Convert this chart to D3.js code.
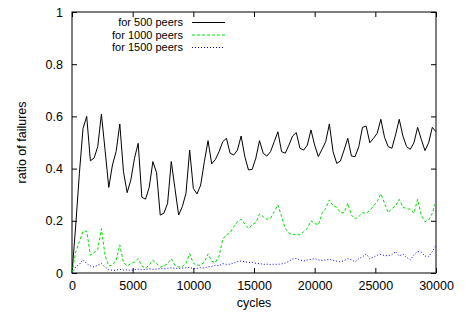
<!DOCTYPE html>
<html>
<head>
<meta charset="utf-8">
<script src="https://cdn.jsdelivr.net/npm/d3@7"></script>
<style>
  body { margin: 0; background: #fff; }
  svg { display: block; font-family: "Liberation Sans", Arial, Helvetica, sans-serif; }
  .axis path, .axis line { stroke: #000; }
  .axis text { font-size: 12.5px; fill: #000; }
</style>
</head>
<body>
<div id="chart"></div>
<script>
// ratio of failures sampled over 0..30000 cycles (100 samples each)
const peers500 = [
  0, 0.18, 0.38, 0.554, 0.60, 0.43, 0.44, 0.484, 0.609, 0.47,
  0.328, 0.414, 0.465, 0.571, 0.388, 0.308, 0.356, 0.44, 0.497, 0.29,
  0.283, 0.328, 0.427, 0.384, 0.222, 0.229, 0.267, 0.427, 0.324, 0.222,
  0.254, 0.305, 0.471, 0.324, 0.303, 0.337, 0.427, 0.507, 0.418, 0.435,
  0.465, 0.503, 0.516, 0.459, 0.452, 0.471, 0.525, 0.446, 0.395, 0.397,
  0.44, 0.507, 0.459, 0.448, 0.465, 0.503, 0.541, 0.465, 0.459, 0.49,
  0.525, 0.538, 0.478, 0.471, 0.49, 0.548, 0.49, 0.446, 0.474, 0.503,
  0.571, 0.465, 0.42, 0.429, 0.471, 0.516, 0.448, 0.446, 0.484, 0.558,
  0.563, 0.499, 0.516, 0.535, 0.589, 0.52, 0.484, 0.478, 0.529, 0.589,
  0.525, 0.484, 0.474, 0.499, 0.558, 0.512, 0.469, 0.499, 0.558, 0.541
];
const peers1000 = [
  0, 0.08, 0.12, 0.16, 0.16, 0.068, 0.078, 0.09, 0.17, 0.068,
  0.027, 0.03, 0.049, 0.108, 0.04, 0.027, 0.036, 0.042, 0.055, 0.027,
  0.019, 0.03, 0.049, 0.036, 0.023, 0.027, 0.036, 0.055, 0.03, 0.023,
  0.025, 0.036, 0.074, 0.037, 0.03, 0.03, 0.042, 0.073, 0.045, 0.04,
  0.065, 0.13, 0.146, 0.154, 0.177, 0.197, 0.206, 0.188, 0.171, 0.184,
  0.193, 0.226, 0.216, 0.206, 0.21, 0.235, 0.261, 0.216, 0.171, 0.152,
  0.148, 0.148, 0.146, 0.158, 0.171, 0.2, 0.19, 0.184, 0.228, 0.247,
  0.28, 0.257, 0.252, 0.231, 0.231, 0.267, 0.222, 0.207, 0.216, 0.231,
  0.229, 0.239, 0.257, 0.274, 0.303, 0.267, 0.231, 0.247, 0.257, 0.282,
  0.252, 0.247, 0.244, 0.229, 0.282, 0.222, 0.197, 0.203, 0.229, 0.274
];
const peers1500 = [
  0, 0.023, 0.033, 0.051, 0.036, 0.027, 0.023, 0.03, 0.036, 0.023,
  0.013, 0.01, 0.011, 0.014, 0.011, 0.012, 0.01, 0.013, 0.015, 0.012,
  0.014, 0.016, 0.014, 0.015, 0.017, 0.016, 0.018, 0.02, 0.018, 0.017,
  0.019, 0.02, 0.022, 0.016, 0.018, 0.02, 0.019, 0.024, 0.025, 0.03,
  0.028, 0.036, 0.033, 0.034, 0.038, 0.044, 0.046, 0.043, 0.04, 0.041,
  0.037, 0.036, 0.033, 0.034, 0.032, 0.034, 0.033, 0.035, 0.038, 0.045,
  0.054, 0.056, 0.05, 0.046, 0.05, 0.052, 0.055, 0.05, 0.048, 0.05,
  0.052, 0.049, 0.045, 0.043, 0.047, 0.055, 0.05, 0.043, 0.055, 0.062,
  0.073, 0.055, 0.06, 0.068, 0.071, 0.067, 0.066, 0.07, 0.082, 0.065,
  0.073, 0.06, 0.05, 0.07, 0.082, 0.08, 0.065, 0.062, 0.082, 0.107
];
const seriesNames = ['for 500 peers', 'for 1000 peers', 'for 1500 peers'];
const xTicks = [0, 5000, 10000, 15000, 20000, 25000, 30000];
const yTicks = [0, 0.2, 0.4, 0.6, 0.8, 1];
const maxCycles = 30000;

const W = 469, H = 316;
const margin = {t: 12, r: 33, b: 43, l: 72};
const w = W - margin.l - margin.r;
const h = H - margin.t - margin.b;

const svg = d3.select('#chart').append('svg')
  .attr('width', W)
  .attr('height', H);

const plot = svg.append('g')
  .attr('transform', `translate(${margin.l},${margin.t})`);

const scaleX = d3.scaleLinear().domain([0, maxCycles]).range([0, w]);
const scaleY = d3.scaleLinear().domain([0, 1]).range([h, 0]);

// axes, ticks pointing inward, mirrored on top/right
const tickLen = 5;
plot.append('g')
  .attr('class', 'axis axis-x')
  .attr('transform', `translate(0,${h})`)
  .call(d3.axisBottom(scaleX).tickValues(xTicks).tickSize(-tickLen).tickPadding(8).tickFormat(d3.format('d')));
plot.append('g')
  .attr('class', 'axis axis-x2')
  .call(d3.axisTop(scaleX).tickValues(xTicks).tickSize(-tickLen).tickFormat(''));
plot.append('g')
  .attr('class', 'axis axis-y')
  .call(d3.axisLeft(scaleY).tickValues(yTicks).tickSize(-tickLen).tickPadding(9).tickFormat(d => d));
plot.append('g')
  .attr('class', 'axis axis-y2')
  .attr('transform', `translate(${w},0)`)
  .call(d3.axisRight(scaleY).tickValues(yTicks).tickSize(-tickLen).tickFormat(''));

plot.selectAll('.domain').remove();
plot.append('rect')
  .attr('width', w).attr('height', h)
  .attr('fill', 'none').attr('stroke', '#000');

const styles = [
  {color: '#000000', dash: null},
  {color: '#00e000', dash: '3,2'},
  {color: '#0000ff', dash: '1,2'}
];
const allSeries = [peers500, peers1000, peers1500];

const line = d3.line()
  .x((d, i) => scaleX(i * maxCycles / (peers500.length - 1)))
  .y(d => scaleY(d));

plot.selectAll('.series')
  .data(allSeries)
  .enter().append('path')
  .attr('class', 'series')
  .attr('d', line)
  .attr('fill', 'none')
  .attr('stroke', (d, i) => styles[i].color)
  .attr('stroke-width', 1)
  .attr('stroke-dasharray', (d, i) => styles[i].dash);

// legend
const legend = plot.selectAll('.legend')
  .data(seriesNames)
  .enter().append('g')
  .attr('class', 'legend')
  .attr('transform', (d, i) => `translate(0,${10.5 + i * 12.5})`);
legend.append('text')
  .attr('x', 111)
  .attr('dy', '0.35em')
  .attr('text-anchor', 'end')
  .style('font-size', '11px')
  .text(d => d);
legend.append('line')
  .attr('x1', 120).attr('x2', 153)
  .attr('stroke', (d, i) => styles[i].color)
  .attr('stroke-dasharray', (d, i) => styles[i].dash);

// axis titles
svg.append('text')
  .attr('x', margin.l + w / 2)
  .attr('y', 307)
  .attr('text-anchor', 'middle')
  .style('font-size', '12.5px')
  .text('cycles');
svg.append('text')
  .attr('transform', `translate(26,${margin.t + h / 2}) rotate(-90)`)
  .attr('text-anchor', 'middle')
  .style('font-size', '12.5px')
  .text('ratio of failures');
</script>
</body>
</html>
